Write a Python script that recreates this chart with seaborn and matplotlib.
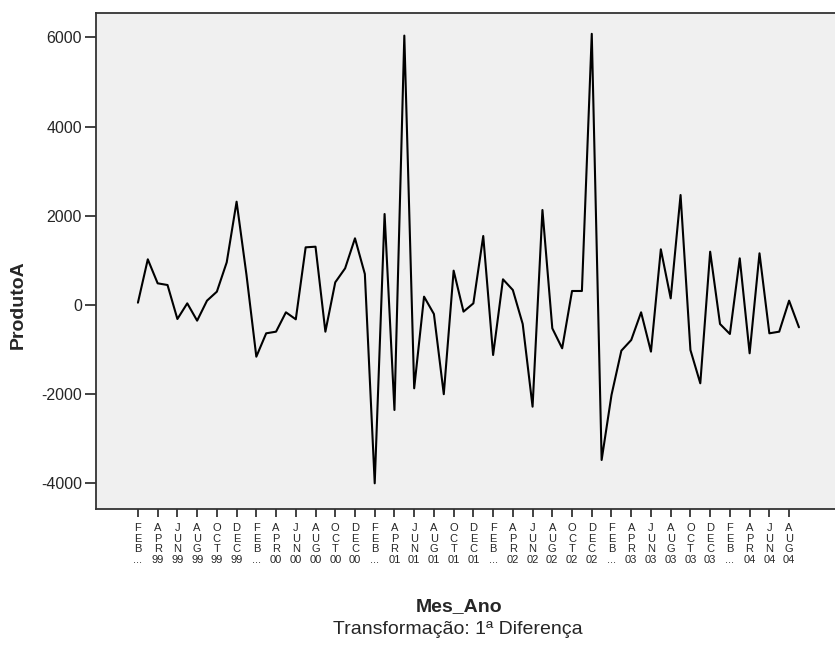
import numpy as np
import pandas as pd
import matplotlib
matplotlib.use("Agg")
import matplotlib.pyplot as plt
import seaborn as sns

# First difference of ProdutoA, monthly from FEB 1999 to SEP 2004
produto_a = [
    52, 1024, 486, 448, -314, 37, -351, 97, 299, 957, 2316, 680,
    -1159, -635, -598, -164, -321, 1293, 1307, -598, 508, 822, 1495, 695,
    -3998, 2040, -2354, 6040, -1868, 187, -202, -2000, 770, -149, 37, 1547,
    -1121, 576, 336, -426, -2280, 2130, -523, -971, 314, 314, 6080, -3475,
    -2018, -1024, -785, -164, -1046, 1248, 149, 2466, -1009, -1756, 1195, -426,
    -650, 1046, -1083, 1159, -635, -598, 97, -500,
]

# Axis ticks every two months (month abbreviation + two-digit year)
tick_text = [
    "FEB ...", "APR 99", "JUN 99", "AUG 99", "OCT 99", "DEC 99",
    "FEB ...", "APR 00", "JUN 00", "AUG 00", "OCT 00", "DEC 00",
    "FEB ...", "APR 01", "JUN 01", "AUG 01", "OCT 01", "DEC 01",
    "FEB ...", "APR 02", "JUN 02", "AUG 02", "OCT 02", "DEC 02",
    "FEB ...", "APR 03", "JUN 03", "AUG 03", "OCT 03", "DEC 03",
    "FEB ...", "APR 04", "JUN 04", "AUG 04",
]
y_ticks = [-4000, -2000, 0, 2000, 4000, 6000]

df = pd.DataFrame({"t": np.arange(len(produto_a)), "ProdutoA": produto_a})

sns.set_theme(style="ticks")
plt.rcParams["font.family"] = ["Liberation Sans", "DejaVu Sans"]

W, H = 835, 664
fig = plt.figure(figsize=(W / 100, H / 100), dpi=100)
ax = fig.add_axes([96 / W, 1 - 509 / H, (W - 96) / W + 0.01, (509 - 12.5) / H])
ax.set_facecolor("#F0F0F0")

sns.lineplot(data=df, x="t", y="ProdutoA", color="black", linewidth=1.5, ax=ax)

ax.set_xlim(-4.25, 71.5)
ax.set_ylim(-4574, 6558)

ax.set_yticks(y_ticks)
ax.set_yticklabels([str(v) for v in y_ticks], fontsize=11.5)

xt = np.arange(0, 2 * len(tick_text), 2)
ax.set_xticks(xt)
stacked = ["\n".join(list(s.split(" ")[0])) + "\n" + s.split(" ")[1] for s in tick_text]
ax.set_xticklabels(stacked, fontsize=8, linespacing=1.1)

ax.tick_params(axis="y", direction="out", length=8, width=1.2, color="#222222", pad=2)
ax.tick_params(axis="x", direction="out", length=6, width=1.2, color="#222222", pad=4)

for s in ax.spines.values():
    s.set_color("#333333")
    s.set_linewidth(1.3)

ax.set_xlabel("")
ax.set_ylabel("")
fig.text(18 / W, 1 - 305 / H, "ProdutoA", rotation=90, ha="center", va="center",
         fontsize=14, fontweight="bold")
fig.text(459 / W, 1 - 607 / H, "Mes_Ano", ha="center", va="center",
         fontsize=14, fontweight="bold")
fig.text(458 / W, 1 - 630 / H, "Transformação: 1ª Diferença", ha="center", va="center",
         fontsize=14)

fig.savefig("out.png", dpi=100)
